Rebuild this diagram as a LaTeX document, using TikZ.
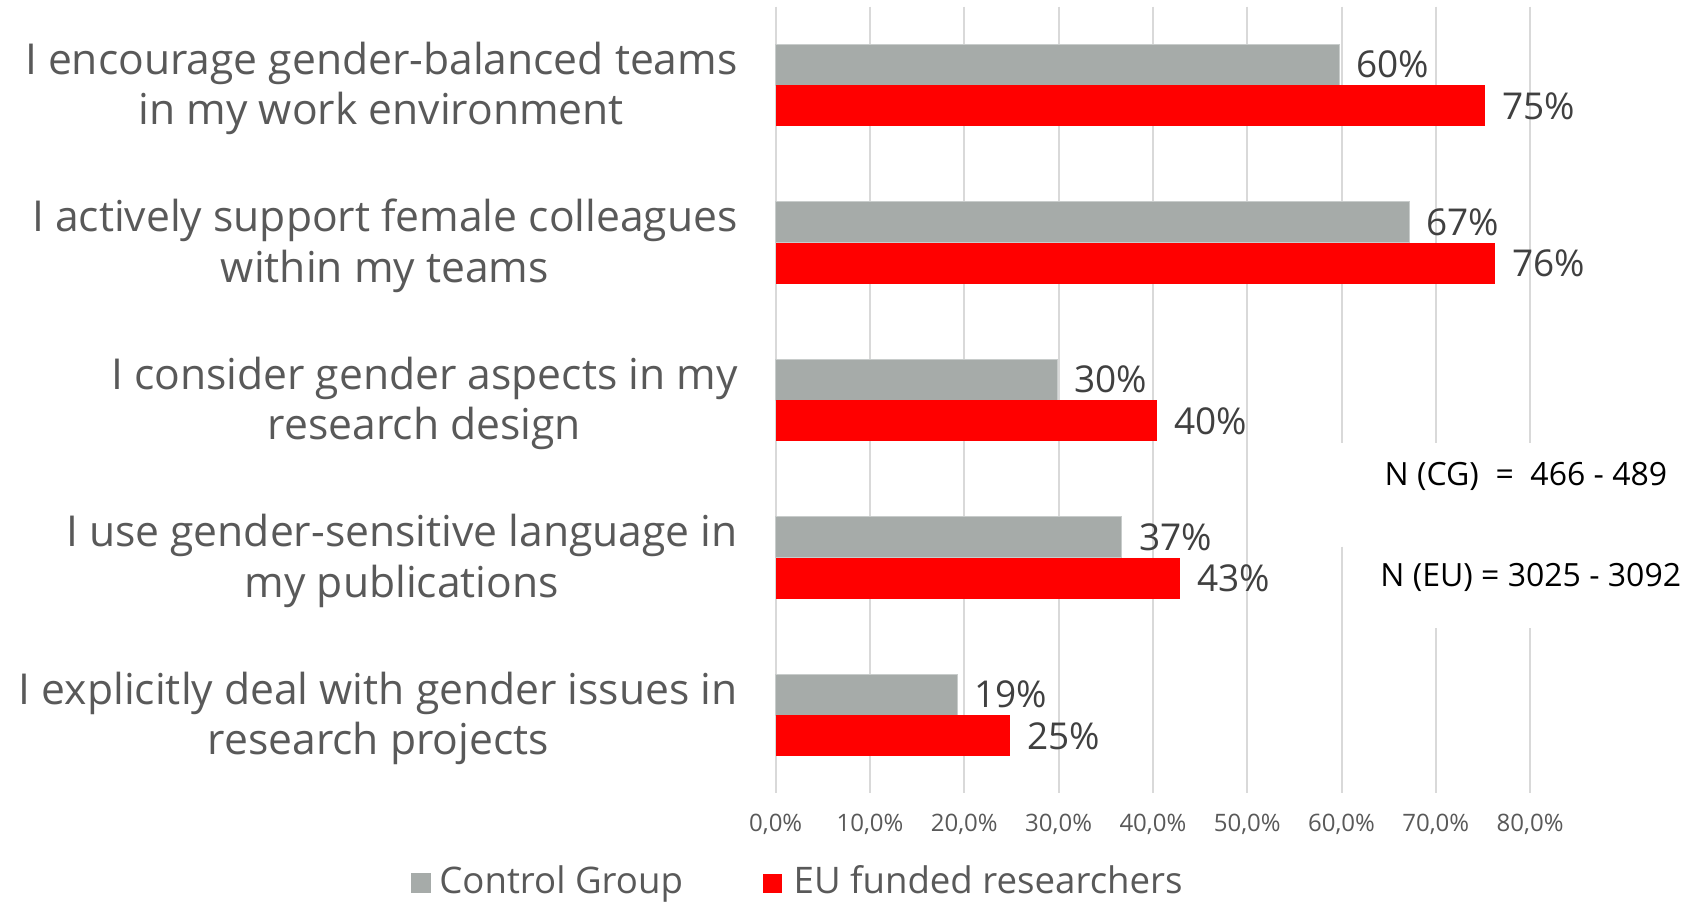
\documentclass[tikz,border=0pt]{standalone}
\usepackage{fontspec}
\setmainfont{Open Sans}
\definecolor{cgray}{HTML}{A6ABA9}
\definecolor{cgrayedge}{HTML}{C8CCCB}
\definecolor{cred}{HTML}{FF0000}
\definecolor{gridc}{HTML}{D9D9D9}
\definecolor{lblc}{HTML}{595959}
\definecolor{valc}{HTML}{404040}
\tikzset{
  gridline/.style={draw=gridc, line width=1pt},
  cgbar/.style={fill=cgray, draw=cgrayedge, line width=0.5pt},
  eubar/.style={fill=cred},
  catlabel/.style={anchor=east, inner sep=0pt, align=center, text=lblc,
    font=\fontsize{21.3}{25.3}\selectfont},
  vallabel/.style={anchor=west, inner sep=0pt, text=valc,
    font=\fontsize{18.5}{22}\selectfont},
  ticklabel/.style={anchor=base, inner sep=0pt, text=lblc,
    font=\fontsize{12}{14}\selectfont},
  legtext/.style={anchor=base west, inner sep=0pt, text=lblc,
    font=\fontsize{18.3}{21}\selectfont},
  ntext/.style={anchor=base west, inner sep=0pt, text=black,
    font=\fontsize{16}{19}\selectfont}
}
\begin{document}
\begin{tikzpicture}[x=0.5pt, y=-0.5pt]
\useasboundingbox (0,0) rectangle (1699,901);
\fill[white] (0,0) rectangle (1699,901);

% grid lines
\foreach \k in {0,...,5}{
  \draw[gridline] ({775.7+94.3*\k},6.7) -- ({775.7+94.3*\k},793);
}
\draw[gridline] (1341.5,6.7) -- (1341.5,443.3);
\draw[gridline] (1341.5,546.7) -- (1341.5,793);
\foreach \xx in {1435.8,1530.1}{
  \draw[gridline] (\xx,6.7) -- (\xx,443.3);
  \draw[gridline] (\xx,628.3) -- (\xx,793);
}

% bars: row index, CG end, EU end, CG text, EU text
\foreach \i/\cg/\eu/\tcg/\teu in {0/1339/1485/60/75, 1/1409/1494.6/67/76, 2/1057/1156.6/30/40, 3/1121.6/1179.6/37/43, 4/957/1010/19/25}{
  \pgfmathsetmacro{\top}{44+157.5*\i}
  \pgfmathsetmacro{\mid}{\top+41.3}
  \pgfmathsetmacro{\bot}{\mid+41}
  \draw[cgbar] (775.7,\top) rectangle (\cg,\mid);
  \fill[eubar] (775.7,\mid) rectangle (\eu,\bot);
  \node[vallabel] (vcg\i) at ({\cg+17},{(\top+\mid)/2}) {\tcg\%};
  \node[vallabel] (veu\i) at ({\eu+17},{(\mid+\bot)/2}) {\teu\%};
}

% category labels
\node[catlabel] (c0) at (738,88.5) {I encourage gender-balanced teams\\in my work environment};
\node[catlabel] (c1) at (738,246) {I actively support female colleagues\\within my teams};
\node[catlabel] (c2) at (738,403.5) {I consider gender aspects in my\\research design};
\node[catlabel] (c3) at (738,561) {I use gender-sensitive language in\\my publications};
\node[catlabel] (c4) at (738,718.5) {I explicitly deal with gender issues in\\research projects};

% tick labels
\foreach \k in {0,...,8}{
  \pgfmathtruncatemacro{\v}{10*\k}
  \node[ticklabel] (t\k) at ({775.7+94.3*\k},831.7) {\v,0\%};
}

% N texts
\node[ntext] (ncg) at (1384.3,485) {N (CG)\ \ =\ \ 466 - 489};
\node[ntext] (neu) at (1380,586.7) {N (EU) = 3025 - 3092};

% legend
\fill[cgray] (411,873.3) rectangle (430.7,893.3);
\node[legtext] (lcg) at (439,893.3) {Control Group};
\fill[cred] (762.7,874) rectangle (781.7,893.3);
\node[legtext] (leu) at (793.3,893.3) {EU funded researchers};
\end{tikzpicture}
\end{document}
